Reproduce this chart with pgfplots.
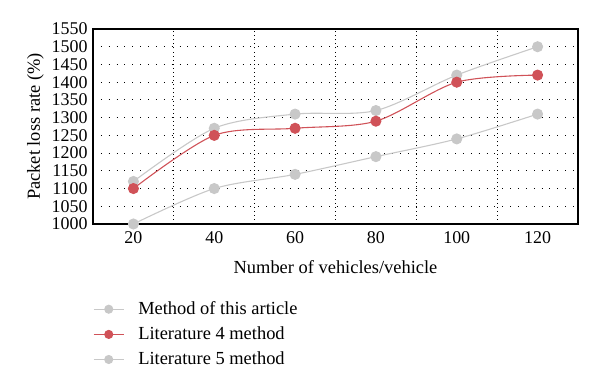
\documentclass[border=0pt]{standalone}
\usepackage{fontspec}
\setmainfont{Liberation Serif}
\usepackage{pgfplots}
\pgfplotsset{compat=1.18}
\definecolor{lgray}{RGB}{200,200,200}
\definecolor{lred}{RGB}{208,82,88}
\begin{document}
\fontsize{19}{22}\selectfont
\begin{tikzpicture}
\path[use as bounding box] (0,0) rectangle (600bp,386bp);
\begin{axis}[
  at={(93bp,162bp)}, anchor=south west,
  scale only axis, width=485bp, height=195bp,
  xmin=10, xmax=130, ymin=1000, ymax=1550,
  xtick={20,40,60,80,100,120},
  ytick={1000,1050,...,1550},
  minor xtick={30,50,70,90,110},
  tick style={draw=none},
  axis line style={line width=1.2pt},
  minor x grid style={black, dash pattern=on 0.9pt off 3.2pt, line width=0.9pt},
  y grid style={black, dash pattern=on 0.9pt off 7pt, line width=0.9pt},
  xminorgrids=true, ymajorgrids=true, xmajorgrids=false,
  /pgf/number format/assume math mode=true,
  /pgf/number format/1000 sep={},
  tick label style={font=\fontsize{18}{20}\selectfont},
  label style={font=\fontsize{18.5}{21}\selectfont},
  yticklabel style={xshift=1pt},
  xlabel={Number of vehicles/vehicle},
  xlabel style={yshift=-4pt},
  ylabel={Packet loss rate (\%)},
  ylabel style={yshift=-5pt},
  xticklabel style={yshift=-1pt},
  legend style={draw=none, at={(0,-0.375)}, anchor=north west, font=\fontsize{18.5}{21}\selectfont, row sep=5.5pt, fill=none, inner xsep=0pt,
    /tikz/every odd column/.append style={column sep=12bp}},
  legend image code/.code={\draw[mark repeat=2,mark phase=2, mark size=4pt] plot coordinates {(0bp,0bp)(15bp,0bp)(30bp,0bp)};},
  legend cell align=left,
  every axis plot/.append style={line width=1.1pt, mark=*, mark size=5pt, smooth},
]
\addplot[color=lgray, mark options={fill=lgray, draw=lgray}] coordinates {(20,1120) (40,1270) (60,1310) (80,1320) (100,1420) (120,1500)};
\addlegendentry{Method of this article}
\addplot[color=lred, mark options={fill=lred, draw=lred}] coordinates {(20,1100) (40,1250) (60,1270) (80,1290) (100,1400) (120,1420)};
\addlegendentry{Literature 4 method}
\addplot[color=lgray, mark options={fill=lgray, draw=lgray}] coordinates {(20,1000) (40,1100) (60,1140) (80,1190) (100,1240) (120,1310)};
\addlegendentry{Literature 5 method}
\end{axis}
\end{tikzpicture}
\end{document}
